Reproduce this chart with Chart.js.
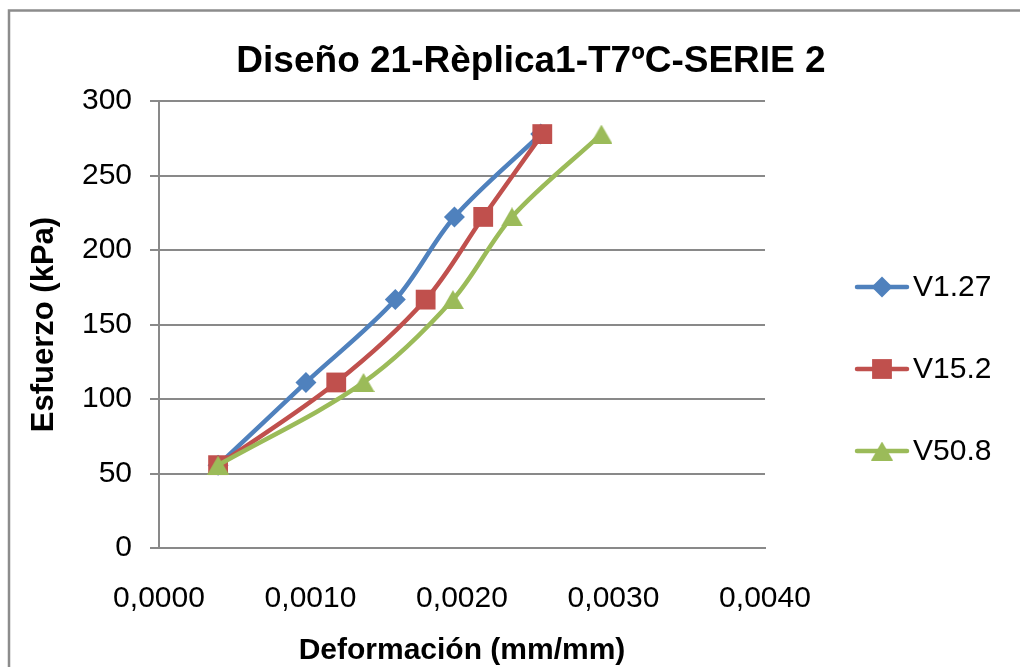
<!DOCTYPE html>
<html>
<head>
<meta charset="utf-8">
<title>Diseño 21-Rèplica1-T7ºC-SERIE 2</title>
<script src="https://cdn.jsdelivr.net/npm/chart.js@4.4.1/dist/chart.umd.min.js"></script>
<style>
  html, body { margin: 0; padding: 0; background: #fff; }
  canvas { display: block; }
</style>
</head>
<body>
<canvas id="chart" width="1020" height="667"></canvas>
<script>
// Stress levels shared by all three loading rates (kPa)
const stress = [55.6, 111.1, 166.7, 222.2, 277.8];

// Strain per loading rate (mm/mm)
const strainV127 = [0.00039, 0.00097, 0.00156, 0.00195, 0.00252];
const strainV152 = [0.00039, 0.00117, 0.00176, 0.00214, 0.00253];
const strainV508 = [0.00039, 0.00135, 0.00194, 0.00233, 0.00292];

const seriesNames = ['V1.27', 'V15.2', 'V50.8'];
const xTickLabels = ['0,0000', '0,0010', '0,0020', '0,0030', '0,0040'];
const chartTitle = 'Diseño 21-Rèplica1-T7ºC-SERIE 2';

const FONT = '"Liberation Sans", Arial, sans-serif';
const GREY = '#898989';

function toPoints(strain) {
    return strain.map((x, i) => ({ x: x, y: stress[i] }));
}

// Triangle marker centred on its bounding box (the built-in one sits on its centroid)
function triangleMarker(color) {
    const cv = document.createElement('canvas');
    cv.width = 22;
    cv.height = 19;
    const g = cv.getContext('2d');
    g.fillStyle = color;
    g.beginPath();
    g.moveTo(11, 0);
    g.lineTo(22, 19);
    g.lineTo(0, 19);
    g.closePath();
    g.fill();
    return cv;
}

function series(label, strain, color, style, radius, order) {
    return {
        label: label,
        data: toPoints(strain),
        borderColor: color,
        backgroundColor: color,
        pointBackgroundColor: color,
        pointBorderWidth: 0,
        pointStyle: style,
        pointRadius: radius,
        borderWidth: 4.5,
        borderCapStyle: 'round',
        borderJoinStyle: 'round',
        tension: 0.33,
        fill: false,
        order: order
    };
}

// Frame, title and legend are painted by hand around the plot
const decorations = {
    id: 'decorations',
    beforeDraw(chart) {
        const c = chart.ctx;
        c.save();
        c.strokeStyle = '#8c8c8c';
        c.lineWidth = 2.5;
        c.strokeRect(9, 10.5, 1100, 700);
        c.restore();
    },
    afterDraw(chart) {
        const c = chart.ctx;
        c.save();
        c.fillStyle = '#000';
        c.font = 'bold 37px ' + FONT;
        c.textAlign = 'center';
        c.textBaseline = 'middle';
        c.fillText(chartTitle, 531, 62);

        chart.data.datasets.forEach((ds, i) => {
            const y = 287 + i * 82;
            c.strokeStyle = ds.borderColor;
            c.lineWidth = 4.5;
            c.lineCap = 'round';
            c.beginPath();
            c.moveTo(857, y);
            c.lineTo(907, y);
            c.stroke();
            c.fillStyle = ds.pointBackgroundColor;
            Chart.helpers.drawPoint(c, {
                pointStyle: ds.pointStyle,
                radius: ds.pointRadius,
                borderWidth: 0,
                rotation: 0
            }, 882, y);
            c.fillStyle = '#000';
            c.font = '30px ' + FONT;
            c.textAlign = 'left';
            c.fillText(ds.label, 913, y + 1);
        });
        c.restore();
    }
};

const ctx = document.getElementById('chart').getContext('2d');

new Chart(ctx, {
    type: 'line',
    data: {
        datasets: [
            series(seriesNames[0], strainV127, '#4F81BD', 'rectRot', 10.5, 3),
            series(seriesNames[1], strainV152, '#C0504D', 'rect', 14, 2),
            series(seriesNames[2], strainV508, '#9BBB59', triangleMarker('#9BBB59'), 12, 1)
        ]
    },
    options: {
        responsive: false,
        animation: false,
        devicePixelRatio: 1,
        layout: { padding: { top: 101, right: 255, bottom: 0, left: 0 } },
        plugins: {
            legend: { display: false },
            title: { display: false },
            tooltip: { enabled: false }
        },
        scales: {
            x: {
                type: 'linear',
                min: 0,
                max: 0.004,
                ticks: {
                    stepSize: 0.001,
                    autoSkip: false,
                    maxRotation: 0,
                    padding: 33,
                    color: '#000',
                    font: { family: FONT, size: 30 },
                    callback: (v) => xTickLabels[Math.round(v / 0.001)]
                },
                grid: { display: false, drawTicks: false },
                border: { color: GREY, width: 2 },
                title: {
                    display: true,
                    text: 'Deformación (mm/mm)',
                    color: '#000',
                    font: { family: FONT, size: 30, weight: 'bold' },
                    padding: { top: 0, bottom: -2 }
                },
                afterFit(scale) { scale.height = 119; }
            },
            y: {
                min: 0,
                max: 300,
                ticks: {
                    stepSize: 50,
                    padding: 18,
                    color: '#000',
                    font: { family: FONT, size: 30 }
                },
                grid: { color: GREY, lineWidth: 2, tickLength: 9, drawTicks: true },
                border: { color: GREY, width: 2 },
                title: {
                    display: true,
                    text: 'Esfuerzo (kPa)',
                    color: '#000',
                    font: { family: FONT, size: 31, weight: 'bold' },
                    padding: { top: 26, bottom: 0 }
                },
                afterFit(scale) { scale.width = 159; }
            }
        }
    },
    plugins: [decorations]
});
</script>
</body>
</html>
